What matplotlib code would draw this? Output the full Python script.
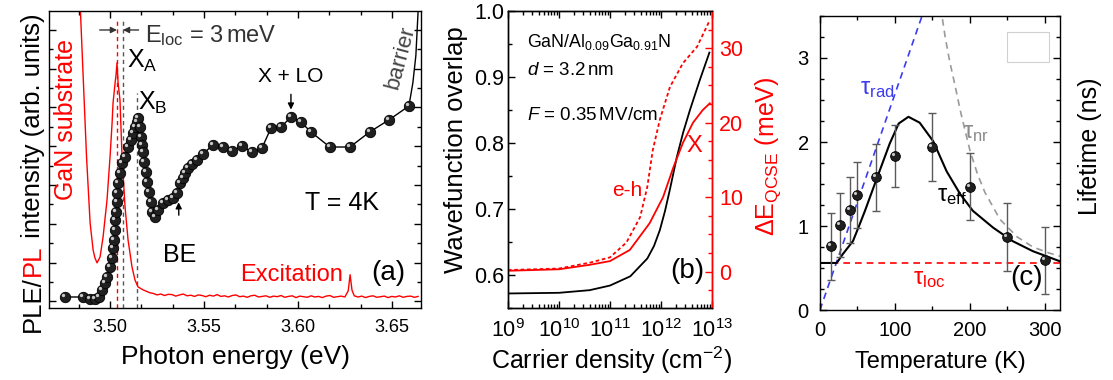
import matplotlib
matplotlib.use('Agg')
import matplotlib.pyplot as plt
from matplotlib.ticker import MultipleLocator, FormatStrFormatter, LogLocator
from matplotlib.transforms import ScaledTranslation
from matplotlib.patches import Rectangle

plt.rcParams['font.family'] = ['Liberation Sans', 'DejaVu Sans']
plt.rcParams['mathtext.fontset'] = 'custom'
plt.rcParams['mathtext.rm'] = 'Liberation Sans'
plt.rcParams['mathtext.it'] = 'Liberation Sans:italic'
plt.rcParams['mathtext.bf'] = 'Liberation Sans:bold'
plt.rcParams['axes.linewidth'] = 1.0

# ---- (a) PLE / PL spectra ----
ple_e = [3.4761, 3.4856, 3.4894, 3.4920, 3.4941, 3.4957, 3.4973, 3.4984, 3.5000, 3.5011,
         3.5016, 3.5021, 3.5027, 3.5027, 3.5032, 3.5037, 3.5037, 3.5043, 3.5053, 3.5064,
         3.5080, 3.5096, 3.5112, 3.5122, 3.5133, 3.5144, 3.5149, 3.5160, 3.5165, 3.5170,
         3.5176, 3.5181, 3.5192, 3.5197, 3.5207, 3.5218, 3.5223, 3.5239, 3.5255, 3.5282,
         3.5309, 3.5335, 3.5356, 3.5372, 3.5388, 3.5399, 3.5415, 3.5436, 3.5463, 3.5495,
         3.5548, 3.5601, 3.5649, 3.5702, 3.5755, 3.5809, 3.5857, 3.5910, 3.5963, 3.6016,
         3.6069, 3.6170, 3.6277, 3.6383, 3.6484, 3.6591]
ple_i = [0.037, 0.037, 0.030, 0.030, 0.037, 0.061, 0.084, 0.104, 0.138, 0.168,
         0.202, 0.229, 0.263, 0.296, 0.323, 0.357, 0.387, 0.421, 0.455, 0.488,
         0.508, 0.542, 0.566, 0.589, 0.609, 0.626, 0.640, 0.609, 0.576, 0.549,
         0.525, 0.492, 0.458, 0.424, 0.391, 0.357, 0.323, 0.306, 0.330, 0.354,
         0.364, 0.370, 0.387, 0.421, 0.438, 0.455, 0.471, 0.485, 0.498, 0.519,
         0.549, 0.542, 0.529, 0.545, 0.525, 0.539, 0.606, 0.609, 0.643, 0.626,
         0.593, 0.542, 0.542, 0.593, 0.633, 0.680]
barrier_e = [3.6591, 3.6612, 3.6628, 3.6640]
barrier_i = [0.680, 0.758, 0.850, 1.000]

pl_e = [3.4840, 3.4860, 3.4875, 3.4894, 3.4910, 3.4920, 3.4931, 3.4947, 3.4963, 3.4984,
        3.5000, 3.5011, 3.5016, 3.5027, 3.5032, 3.5037, 3.5043, 3.5053, 3.5064, 3.5080,
        3.5096, 3.5117, 3.5133, 3.5149, 3.5176, 3.5213,
        3.523, 3.525, 3.527, 3.529, 3.531, 3.533, 3.535, 3.537, 3.539, 3.541,
        3.543, 3.545, 3.547, 3.549, 3.551, 3.553, 3.555, 3.557, 3.559, 3.561,
        3.563, 3.565, 3.567, 3.569, 3.571, 3.573, 3.575, 3.577, 3.579, 3.581,
        3.583, 3.585, 3.587, 3.589, 3.591, 3.593, 3.595, 3.597, 3.599, 3.601,
        3.603, 3.605, 3.607, 3.609, 3.611, 3.613, 3.615, 3.617, 3.619, 3.621,
        3.623, 3.625, 3.6268, 3.6278, 3.6288, 3.630, 3.632, 3.634, 3.636, 3.638,
        3.640, 3.642, 3.644, 3.646, 3.648, 3.650, 3.652, 3.654, 3.656, 3.658,
        3.660, 3.662, 3.664]
pl_i = [1.037, 0.734, 0.508, 0.286, 0.195, 0.168, 0.152, 0.172, 0.239, 0.364,
        0.508, 0.623, 0.690, 0.758, 0.785, 0.825, 0.758, 0.700, 0.508, 0.340,
        0.229, 0.138, 0.094, 0.071, 0.061, 0.051,
        0.049, 0.044, 0.047, 0.042, 0.046, 0.045, 0.040, 0.044, 0.047, 0.041,
        0.043, 0.039, 0.044, 0.042, 0.038, 0.043, 0.040, 0.045, 0.039, 0.041,
        0.037, 0.042, 0.044, 0.038, 0.040, 0.036, 0.041, 0.043, 0.037, 0.039,
        0.041, 0.036, 0.040, 0.038, 0.042, 0.036, 0.039, 0.041, 0.035, 0.040,
        0.038, 0.036, 0.041, 0.037, 0.039, 0.035, 0.040, 0.042, 0.036, 0.038,
        0.040, 0.037, 0.058, 0.112, 0.060, 0.041, 0.037, 0.040, 0.035, 0.039,
        0.041, 0.036, 0.038, 0.040, 0.035, 0.039, 0.037, 0.041, 0.036, 0.039,
        0.040, 0.036, 0.039]

e_qw_loc = 3.5037   # localized exciton (PL max)
e_xa = 3.5069
e_xb = 3.5144

# ---- (b) overlap and QCSE shift vs carrier density ----
n_ov = [1e9, 1e10, 4e10, 1e11, 2.5e11, 5.4e11, 7.3e11, 9.5e11, 1.2e12, 1.5e12, 2.05e12, 2.7e12,
        3.7e12, 5.75e12, 8.9e12]
overlap = [0.572, 0.573, 0.577, 0.584, 0.598, 0.625, 0.644, 0.668, 0.697, 0.730, 0.779, 0.815,
           0.850, 0.895, 0.937]

n_x = [1e9, 1e10, 4e10, 1e11, 2.45e11, 6e11, 1.1e12, 1.75e12, 2.7e12, 4.25e12, 6.6e12, 9.1e12]
de_x = [0.1, 0.3, 0.9, 1.4, 2.9, 6.5, 10.0, 14.0, 17.3, 20.0, 21.7, 22.6]

n_eh = [1e9, 1e10, 4.1e10, 1e11, 2.1e11, 3.9e11, 5.4e11, 6.9e11, 9.5e11, 1.5e12, 2.7e12, 5.1e12, 9.1e12]
de_eh = [0.2, 0.4, 1.2, 1.9, 3.9, 7.3, 11.4, 16.3, 20.4, 24.8, 28.0, 30.2, 33.8]

# ---- (c) lifetimes vs temperature ----
T_pts = [15, 27, 40, 50, 75, 100, 150, 200, 250, 300]
tau_pts = [0.76, 1.01, 1.19, 1.37, 1.58, 1.83, 1.94, 1.47, 0.87, 0.59]
tau_err = [0.40, 0.38, 0.39, 0.39, 0.40, 0.37, 0.40, 0.40, 0.40, 0.40]

T_eff = [0, 22, 24, 30, 44, 53, 60, 76, 93, 105, 118, 133, 151, 169, 187, 204, 231, 257, 284, 320]
tau_eff = [0.56, 0.56, 0.58, 0.66, 0.82, 1.02, 1.18, 1.57, 1.98, 2.22, 2.30, 2.23, 2.01, 1.65,
           1.38, 1.18, 0.98, 0.82, 0.70, 0.58]
T_rad = [0, 140]
tau_rad = [0.0, 3.6]
T_nr = [161, 167, 173, 180, 187, 194, 200, 210, 220, 240, 263, 284, 305, 320]
tau_nr = [3.60, 3.25, 2.96, 2.68, 2.38, 2.12, 1.90, 1.62, 1.40, 1.08, 0.87, 0.75, 0.68, 0.64]
T_loc = [0, 320]
tau_loc = [0.56, 0.56]


fig = plt.figure(figsize=(11.13, 3.8), dpi=100)
ax_a = fig.add_axes([0.0440, 0.1895, 0.3342, 0.7816])
ax_b = fig.add_axes([0.4564, 0.1895, 0.1833, 0.7816])
ax_c = fig.add_axes([0.7367, 0.1842, 0.2156, 0.7737])


def balls(ax, x, y, ms):
    # dark spheres with a small highlight up-left
    ax.plot(x, y, 'o', ms=ms, mfc='#202020', mec='#000000', mew=0.6, zorder=5)
    shift = ScaledTranslation(-ms * 0.2 / 72, ms * 0.2 / 72, fig.dpi_scale_trans)
    ax.plot(x, y, 'o', ms=ms * 0.32, mfc='#c8c8c8', mec='none', zorder=6,
            transform=ax.transData + shift)


def style(ax, fs=13):
    ax.tick_params(which='both', direction='in', top=True, right=True, labelsize=fs, width=1)
    ax.tick_params(which='major', length=5)
    ax.tick_params(which='minor', length=3)


# (a)
ax_a.plot(pl_e, pl_i, color='red', lw=1.0, zorder=2)
ax_a.axvline(e_qw_loc, 0, 0.975, color='red', ls=(0, (3, 2.5)), lw=1.0, zorder=1)
ax_a.axvline(e_xa, 0, 0.975, color='#555555', ls=(0, (3, 2.5)), lw=1.0, zorder=1)
ax_a.axvline(e_xb, 0, 0.724, color='#555555', ls=(0, (3, 2.5)), lw=1.0, zorder=1)
ax_a.plot(ple_e, ple_i, color='black', lw=1.0, zorder=3)
ax_a.plot(barrier_e, barrier_i, color='black', lw=1.0, zorder=3)
balls(ax_a, ple_e, ple_i, 7.5)

arrow = dict(arrowstyle='-|>', color='#333333', lw=1.0, mutation_scale=9, shrinkA=0, shrinkB=0)
ax_a.annotate('', xy=(e_qw_loc, 0.936), xytext=(3.4945, 0.936), arrowprops=arrow)
ax_a.annotate('', xy=(e_xa, 0.936), xytext=(3.5152, 0.936), arrowprops=arrow)
ax_a.text(3.5186, 0.896, 'E$_{\\mathrm{loc}}$ = 3$\\,$meV', fontsize=17, color='#333333')
ax_a.text(3.5088, 0.808, 'X$_{\\mathrm{A}}$', fontsize=18, color='black')
ax_a.text(3.5147, 0.667, 'X$_{\\mathrm{B}}$', fontsize=18, color='black')
ax_a.annotate('X + LO', xy=(3.5963, 0.668), xytext=(3.5963, 0.761), ha='center', va='baseline',
              fontsize=15, arrowprops=dict(arrowstyle='-|>', color='black', lw=1.0,
                                           mutation_scale=9, shrinkA=4, shrinkB=0))
ax_a.annotate('BE', xy=(3.5365, 0.356), xytext=(3.5370, 0.155), ha='center', va='baseline',
              fontsize=18, arrowprops=dict(arrowstyle='-|>', color='black', lw=1.0,
                                           mutation_scale=9, shrinkA=18, shrinkB=0))
ax_a.text(3.6037, 0.330, 'T = 4K', fontsize=18)
ax_a.text(3.6390, 0.094, '(a)', fontsize=20)
ax_a.text(3.5692, 0.090, 'Excitation', fontsize=17, color='red')
ax_a.text(3.6545, 0.842, 'barrier', fontsize=16, color='#444444', rotation=75,
          ha='center', va='center')
ax_a.text(3.4765, 0.633, 'GaN substrate', fontsize=18, color='red', rotation=90,
          ha='center', va='center')

ax_a.set_xlim(3.4675, 3.6655)
ax_a.set_ylim(0, 1)
ax_a.xaxis.set_major_locator(MultipleLocator(0.05))
ax_a.xaxis.set_minor_locator(MultipleLocator(0.05 / 3))
ax_a.xaxis.set_major_formatter(FormatStrFormatter('%.2f'))
ax_a.yaxis.set_major_locator(MultipleLocator(0.1306, offset=0.0222))
ax_a.yaxis.set_minor_locator(MultipleLocator(0.0653, offset=0.0222))
style(ax_a, 13)
ax_a.tick_params(axis='x', pad=8)
ax_a.tick_params(axis='y', labelleft=False)

# multi-colour y label
part = fig.text(0.0359, 0.126, 'PLE/', rotation=90, rotation_mode='anchor',
                ha='left', va='baseline', fontsize=18.5)
for s, c in [('PL', 'red'), (' intensity (arb. units)', 'black')]:
    part = ax_a.annotate(s, xy=(0.0359, 1), xycoords=('figure fraction', part),
                         rotation=90, rotation_mode='anchor', ha='left', va='baseline',
                         fontsize=18.5, color=c, annotation_clip=False)
fig.text(0.212, 0.0605, 'Photon energy (eV)', fontsize=19, ha='center', va='center')

# (b)
ax_b.plot(n_ov, overlap, color='black', lw=1.3)
ax_b.set_xscale('log')
ax_b.set_xlim(1e9, 1e13)
ax_b.set_ylim(0.55, 1.0)
ax_b.yaxis.set_major_locator(MultipleLocator(0.1))
ax_b.yaxis.set_minor_locator(MultipleLocator(0.05))
ax_b.yaxis.set_major_formatter(FormatStrFormatter('%.1f'))
ax_b.xaxis.set_major_locator(LogLocator(base=10, numticks=10))
ax_b.xaxis.set_minor_locator(LogLocator(base=10, subs=range(2, 10), numticks=20))
style(ax_b, 15.5)
ax_b.tick_params(right=False)
ax_b.tick_params(axis='x', pad=8)
ax_b.tick_params(axis='y', pad=2.5)

ax_b2 = ax_b.twinx()
ax_b2.plot(n_x, de_x, color='red', lw=1.3)
ax_b2.plot(n_eh, de_eh, color='red', lw=1.3, ls=(0, (2, 1.5)))
ax_b2.set_ylim(-4.9, 35)
ax_b2.yaxis.set_major_locator(MultipleLocator(10))
ax_b2.yaxis.set_minor_locator(MultipleLocator(2.5))
ax_b2.tick_params(which='both', direction='in', colors='red', labelsize=15.5, width=1, pad=5)
ax_b2.tick_params(which='major', length=5)
ax_b2.tick_params(which='minor', length=3)
ax_b2.spines['right'].set_color('red')

ax_b.text(0.093, 0.879, 'GaN/Al$_{0.09}$Ga$_{0.91}$N', transform=ax_b.transAxes, fontsize=12.8)
ax_b.text(0.093, 0.785, '$d$ = 3.2$\\,$nm', transform=ax_b.transAxes, fontsize=13.5)
ax_b.text(0.093, 0.633, '$F$ = 0.35$\\,$MV/cm', transform=ax_b.transAxes, fontsize=13.5)
ax_b.text(0.912, 0.545, 'X', transform=ax_b.transAxes, fontsize=17, color='red',
          ha='center', va='center')
ax_b.text(0.583, 0.397, 'e-h', transform=ax_b.transAxes, fontsize=15, color='red',
          ha='center', va='center')
ax_b.text(0.88, 0.125, '(b)', transform=ax_b.transAxes, fontsize=20, ha='center', va='center')

fig.text(0.4097, 0.605, 'Wavefunction overlap', fontsize=18.5, rotation=90,
         ha='center', va='center')
fig.text(0.690, 0.589, '$\\Delta$E$_{\\mathrm{QCSE}}$ (meV)', fontsize=18, rotation=90,
         ha='center', va='center', color='red')
fig.text(0.549, 0.0526, 'Carrier density (cm$^{-2}$)', fontsize=18, ha='center', va='center')

# (c)
ax_c.plot(T_loc, tau_loc, color='red', lw=1.2, ls=(0, (4, 3)), zorder=2)
ax_c.plot(T_rad, tau_rad, color='#3b3bf0', lw=1.2, ls=(0, (4, 3)), zorder=2)
ax_c.plot(T_nr, tau_nr, color='#9a9a9a', lw=1.2, ls=(0, (4, 3)), zorder=2)
ax_c.plot(T_eff, tau_eff, color='black', lw=1.5, zorder=3)
ax_c.errorbar(T_pts, tau_pts, yerr=tau_err, fmt='none', ecolor='#5a5a5a', elinewidth=1.0,
              capsize=3, capthick=1.0, zorder=4)
balls(ax_c, T_pts, tau_pts, 7)

ax_c.text(53, 2.57, '\u03c4$_{\\mathrm{rad}}$', fontsize=17, color='#3b3bf0')
ax_c.text(191, 2.05, '\u03c4$_{\\mathrm{nr}}$', fontsize=17, color='#8a8a8a')
ax_c.text(156, 1.30, '\u03c4$_{\\mathrm{eff}}$', fontsize=17, color='black')
ax_c.text(124, 0.31, '\u03c4$_{\\mathrm{loc}}$', fontsize=17, color='red')
ax_c.text(276, 0.38, '(c)', fontsize=20, ha='center', va='center')
ax_c.add_patch(Rectangle((0.779, 0.843), 0.175, 0.102, transform=ax_c.transAxes,
                         fill=False, ec='#d0d0d0', lw=0.8))

ax_c.set_xlim(0, 320)
ax_c.set_ylim(0, 3.5)
ax_c.xaxis.set_major_locator(MultipleLocator(100))
ax_c.xaxis.set_minor_locator(MultipleLocator(50))
ax_c.yaxis.set_major_locator(MultipleLocator(1))
ax_c.yaxis.set_minor_locator(MultipleLocator(0.25))
style(ax_c, 14.5)
ax_c.tick_params(axis='x', pad=8)
ax_c.tick_params(axis='y', pad=8)

fig.text(0.8446, 0.0474, 'Temperature (K)', fontsize=17, ha='center', va='center')
fig.text(0.979, 0.616, 'Lifetime (ns)', fontsize=18, rotation=90, ha='center', va='center')

fig.savefig('out.png', dpi=100)
